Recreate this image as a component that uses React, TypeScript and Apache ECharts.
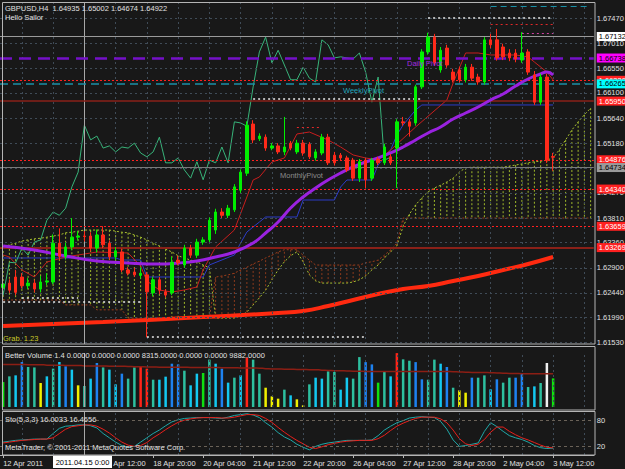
import React, { useEffect, useRef } from "react";
import * as echarts from "echarts";

// ---------- texts ----------
const symbolHeader = "GBPUSD,H4  1.64935 1.65002 1.64674 1.64922";
const indicatorName = "Hello Sailor";
const volumeHeader = "Better Volume 1.4 0.0000 0.0000 0.0000 8315.0000 0.0000 0.0000 9882.0000";
const stochHeader = "Sto(5,3,3) 16.0033 16.4656";
const copyright = "MetaTrader, \u00a9 2001-2011 MetaQuotes Software Corp.";
const crosshairTime = "2011.04.15 0:00";
const grabText = "Grab. 1.23";
const pivotNames = ["Daily Pivot", "WeeklyPivot", "MonthlyPivot"];

// ---------- axes ----------
const slotCount = 95;
const timeLabelStep = 8;
const timeLabels = ["12 Apr 2011", "14 Apr 04:00", "15 Apr 12:00", "18 Apr 20:00", "20 Apr 04:00", "21 Apr 12:00", "22 Apr 20:00", "26 Apr 04:00", "27 Apr 12:00", "28 Apr 20:00", "2 May 04:00", "3 May 12:00"];
const priceTicks = [1.6747, 1.6701, 1.6655, 1.661, 1.6564, 1.6518, 1.6472, 1.6427, 1.6381, 1.6336, 1.629, 1.6244, 1.6199, 1.6153];
const priceMin = 1.61505;
const priceMax = 1.67763;
const gridColumns = [3, 8, 18, 23, 28, 33, 38, 43, 48, 53, 58, 63, 68, 73, 78, 83, 88, 93];
const crosshairIndex = 13;
const volumeMax = 17741.85;
const volumeScaleLabels = [17741.85, 866.85];
const stochLevels = [100, 80, 20, 0];

// ---------- price data: [open, close, low, high] ----------
const candles = [
  [1.6254, 1.626, 1.6247, 1.6267], [1.6262, 1.6249, 1.6244, 1.6269], [1.6273, 1.6245, 1.624, 1.6286], [1.6273, 1.6257, 1.6252, 1.628],
  [1.6257, 1.6262, 1.6251, 1.6271], [1.6262, 1.6251, 1.6245, 1.6268], [1.6251, 1.6264, 1.6245, 1.6275], [1.6264, 1.6266, 1.6258, 1.628],
  [1.6264, 1.6335, 1.626, 1.6351], [1.6335, 1.6311, 1.6305, 1.6362], [1.6311, 1.6328, 1.6305, 1.6336], [1.6328, 1.6346, 1.6322, 1.6381],
  [1.6346, 1.6348, 1.634, 1.6357], [1.6348, 1.6347, 1.6338, 1.6357], [1.6348, 1.6326, 1.632, 1.6355], [1.6326, 1.635, 1.6318, 1.636],
  [1.635, 1.6332, 1.6326, 1.6366], [1.6335, 1.631, 1.6305, 1.634], [1.631, 1.6321, 1.6304, 1.6328], [1.6319, 1.6286, 1.6282, 1.6325],
  [1.6286, 1.628, 1.6276, 1.6291], [1.6282, 1.6277, 1.6273, 1.629], [1.6276, 1.628, 1.627, 1.6291], [1.6277, 1.6246, 1.6163, 1.6282],
  [1.6244, 1.6268, 1.6238, 1.6273], [1.6268, 1.6249, 1.6242, 1.6273], [1.6246, 1.624, 1.6236, 1.6251], [1.6244, 1.63, 1.624, 1.631],
  [1.6304, 1.6299, 1.6295, 1.6312], [1.6295, 1.6326, 1.629, 1.6332], [1.6326, 1.6313, 1.6308, 1.6332], [1.6313, 1.6337, 1.6308, 1.6343],
  [1.6337, 1.6341, 1.6332, 1.6346], [1.6341, 1.6377, 1.6337, 1.6382], [1.6359, 1.6392, 1.6352, 1.6398], [1.6392, 1.6386, 1.6381, 1.6399],
  [1.6386, 1.6399, 1.6381, 1.6405], [1.6396, 1.6438, 1.6392, 1.6443], [1.6432, 1.6465, 1.6427, 1.647], [1.6463, 1.6551, 1.6458, 1.6558],
  [1.6553, 1.6524, 1.6518, 1.656], [1.6526, 1.6531, 1.6522, 1.6536], [1.6529, 1.6509, 1.6504, 1.6534], [1.6509, 1.6513, 1.6505, 1.6518],
  [1.6513, 1.6502, 1.6498, 1.6518], [1.6502, 1.6511, 1.6496, 1.6566], [1.6518, 1.6509, 1.6505, 1.6522], [1.6502, 1.6518, 1.6498, 1.6524],
  [1.6518, 1.65, 1.6495, 1.6524], [1.6516, 1.6493, 1.6489, 1.652], [1.6491, 1.6502, 1.6486, 1.6507], [1.65, 1.6529, 1.6496, 1.6535],
  [1.6529, 1.6482, 1.6478, 1.6535], [1.6496, 1.6482, 1.6477, 1.6502], [1.6496, 1.6491, 1.6487, 1.65], [1.6491, 1.6469, 1.6465, 1.6495],
  [1.6487, 1.6454, 1.6449, 1.6491], [1.6454, 1.6484, 1.6447, 1.6489], [1.6487, 1.6451, 1.6436, 1.6491], [1.6454, 1.6487, 1.6449, 1.6491],
  [1.6489, 1.6482, 1.6478, 1.6493], [1.6482, 1.6511, 1.6478, 1.6517], [1.6493, 1.6482, 1.6478, 1.6498], [1.6509, 1.6557, 1.6436, 1.6562],
  [1.6557, 1.6555, 1.655, 1.6566], [1.6557, 1.6549, 1.653, 1.6562], [1.6555, 1.6621, 1.655, 1.6625], [1.6621, 1.6685, 1.6617, 1.669],
  [1.6685, 1.6712, 1.668, 1.672], [1.6712, 1.6665, 1.666, 1.6718], [1.6652, 1.6688, 1.6647, 1.6694], [1.6692, 1.6661, 1.6656, 1.6698],
  [1.6648, 1.6634, 1.6629, 1.6654], [1.6652, 1.6634, 1.6629, 1.6658], [1.6634, 1.6657, 1.6629, 1.6663], [1.6657, 1.6637, 1.6632, 1.6663],
  [1.6639, 1.663, 1.6625, 1.6645], [1.663, 1.6707, 1.6625, 1.6712], [1.6707, 1.6698, 1.6692, 1.6718], [1.6707, 1.6674, 1.6669, 1.6727],
  [1.6694, 1.6676, 1.667, 1.67], [1.6683, 1.6674, 1.6668, 1.669], [1.6683, 1.6672, 1.6666, 1.669], [1.667, 1.6683, 1.6665, 1.6721],
  [1.6685, 1.6648, 1.6643, 1.669], [1.6643, 1.6593, 1.6588, 1.665], [1.6593, 1.6639, 1.6588, 1.6645], [1.6639, 1.6487, 1.6482, 1.6645],
  [1.64935, 1.64922, 1.64674, 1.65002],
];

// moving averages read as [bar index, price]
const maSlow: [number, number][] = [[0, 1.61834], [16, 1.61907], [32, 1.61999], [44, 1.62072], [48, 1.62109], [52, 1.622], [56, 1.6231], [60, 1.6242], [64, 1.62511], [68, 1.62566], [72, 1.62658], [76, 1.62749], [80, 1.62859], [84, 1.62969], [88, 1.63097]];
const maMid: [number, number][] = [[0, 1.63298], [5, 1.63225], [10, 1.63115], [15, 1.63024], [20, 1.62987], [25, 1.62969], [28, 1.62987], [31, 1.63024], [34, 1.63097], [37, 1.63188], [40, 1.63353], [42, 1.63536], [44, 1.63737], [46, 1.63994], [48, 1.64195], [50, 1.6436], [52, 1.64506], [54, 1.64634], [56, 1.64744], [58, 1.64835], [60, 1.64909], [62, 1.65], [64, 1.6511], [66, 1.65238], [68, 1.65366], [70, 1.65476], [72, 1.65622], [74, 1.65732], [76, 1.65842], [78, 1.6597], [80, 1.6608], [82, 1.66226], [84, 1.66354], [86, 1.66446], [87, 1.66482], [88, 1.66428]];
const tenkan: [number, number][] = [[0, 1.63134], [1, 1.63097], [3, 1.62859], [5, 1.62731], [7, 1.63005], [10, 1.63097], [12, 1.63134], [15, 1.63188], [20, 1.6317], [22, 1.62932], [23, 1.62658], [25, 1.62493], [27, 1.62456], [29, 1.62493], [31, 1.62548], [32, 1.62859], [34, 1.6328], [37, 1.63591], [39, 1.64195], [40, 1.64506], [41, 1.64561], [43, 1.64835], [45, 1.64909], [46, 1.65128], [47, 1.65348], [49, 1.65384], [52, 1.65238], [54, 1.6511], [56, 1.64964], [58, 1.64909], [60, 1.64872], [62, 1.65055], [66, 1.65476], [71, 1.6597], [72, 1.66281], [74, 1.6683], [76, 1.6683], [78, 1.66794], [82, 1.66794], [84, 1.66757], [85, 1.66665], [87, 1.66482], [88, 1.66336]];
const kijun: [number, number][] = [[0, 1.63079], [18, 1.63079], [19, 1.63042], [22, 1.63042], [23, 1.62731], [32, 1.62731], [33, 1.62951], [37, 1.63134], [38, 1.63353], [39, 1.63554], [41, 1.63737], [42, 1.63829], [47, 1.63829], [48, 1.6414], [53, 1.6414], [54, 1.64378], [55, 1.64506], [59, 1.64506], [60, 1.64781], [62, 1.65055], [63, 1.6533], [64, 1.65513], [66, 1.65787], [67, 1.65879], [88, 1.65879]];
const chikouShift = 26;

// cloud spans (one per slot, 95)
const spanA = [
  1.6328, 1.6332, 1.6335, 1.6339, 1.6341, 1.6343, 1.6344, 1.6346, 1.6348, 1.635, 1.6354, 1.6355, 1.6357, 1.6359, 1.6359, 1.6359, 1.6359, 1.6359, 1.6357, 1.6355,
  1.6354, 1.635, 1.6346, 1.6341, 1.6335, 1.633, 1.6324, 1.6319, 1.6312, 1.6308, 1.6304, 1.6301, 1.6295, 1.629,
  1.6198, 1.6198, 1.6198, 1.6198, 1.6202, 1.6209, 1.6222, 1.6235, 1.6249, 1.6268, 1.6286, 1.6301, 1.6312, 1.6319,
  1.6301, 1.6277, 1.6266, 1.6262, 1.6262, 1.6262, 1.6262, 1.6262, 1.6264, 1.6268,
  1.6275, 1.6286, 1.6295, 1.6308, 1.6319, 1.633,
  1.6366, 1.6388, 1.6405, 1.6418, 1.6429, 1.6436, 1.6441, 1.6447, 1.6454, 1.6465, 1.6473, 1.6474, 1.6474, 1.6474, 1.6474, 1.6474,
  1.6474, 1.6476, 1.6478, 1.648, 1.6482, 1.6484, 1.6485, 1.6487, 1.6491, 1.6506, 1.6524, 1.6542, 1.6557, 1.657, 1.6582,
];
const spanB = [
  1.6231, 1.6231, 1.6231, 1.6231, 1.6231, 1.6231, 1.6231, 1.6231, 1.6231, 1.6231, 1.6222, 1.6222, 1.6222, 1.6222, 1.6222, 1.6213, 1.6213, 1.6213, 1.6213, 1.6213,
  1.6198, 1.6198, 1.6198, 1.6198, 1.6198, 1.6198, 1.6198, 1.6198, 1.6198, 1.6198, 1.6198, 1.6198, 1.6198, 1.6198,
  1.6273, 1.6275, 1.6277, 1.628, 1.6286, 1.6291, 1.6297, 1.6302, 1.6308, 1.6313, 1.6319, 1.6323, 1.6323, 1.6323,
  1.6313, 1.6304, 1.6295, 1.6295, 1.6295, 1.6295, 1.6295, 1.6295, 1.6295, 1.6295,
  1.6299, 1.6301, 1.6304, 1.6313, 1.6323, 1.6335,
  1.6381, 1.6381, 1.6381, 1.6381, 1.6381, 1.6381, 1.6381, 1.6381, 1.6381, 1.6381, 1.6381, 1.6381, 1.6381, 1.6381, 1.6381, 1.6381,
  1.6381, 1.6381, 1.6381, 1.6381, 1.6381, 1.6381, 1.6381, 1.6381, 1.6381, 1.6381, 1.6381, 1.6381, 1.6381, 1.6381, 1.6381,
];

// horizontal levels
const levelPrices = [1.67132, 1.66738, 1.6633, 1.66265, 1.6595, 1.64876, 1.64734, 1.6434, 1.63659, 1.63269];
const dottedSegments = [
  { price: 1.6747, from: 68, to: 88 },
  { price: 1.6599, from: 40, to: 67 },
  { price: 1.6236, from: 3, to: 12 },
  { price: 1.6227, from: 0, to: 22 },
  { price: 1.6163, from: 23, to: 58 },
];
const dailySegments = [
  { price: 1.6736, from: 78, to: 88 },
  { price: 1.672, from: 83, to: 88 },
  { price: 1.6769, from: 78, to: 94 },
  { price: 1.6547, from: 47, to: 51 },
];

// ---------- volume ----------
const volumes = [
  8200, 10070, 10400, 14780, 13140, 13000, 7880, 10070, 12600, 14780, 13370, 12270, 7120, 6900, 9320, 14450, 13000, 12270, 7440, 10950,
  9320, 13000, 13140, 12600, 8970, 8970, 9970, 14230, 14010, 11930, 7120, 10950, 11180, 15560, 14230, 12600, 8000, 9640, 10400, 16220,
  15560, 10950, 6340, 3500, 2740, 5700, 3830, 2520, 550, 7440, 9640, 9320, 11700, 11500, 5700, 9640, 9320, 16400, 14750, 14000,
  8000, 11500, 10070, 17700, 15660, 15200, 14750, 9100, 8970, 15560, 14230, 13140, 6340, 5470, 4700, 9640, 9640, 10400, 5800, 9100,
  8000, 9640, 9640, 10950, 6560, 6780, 7880, 14450, 9400,
];
const volumeKinds = ("gtcbttyctc" + "bcytcbtccb" + "ttrrtccbbt" + "ccgtcbctcr" + "ttyyytcyyt" + "ccttccttbb" + "gtcrttbbtt" + "cbtyybttcb" + "ttbbtctwg").split("");
const volumeMA = [
  14000, 14000, 13950, 13950, 13900, 13900, 13850, 13750, 13700, 13700, 13650, 13650, 13600, 13500, 13450, 13450, 13450, 13400, 13400, 13350,
  13300, 13250, 13200, 13150, 13150, 13100, 13100, 13100, 13050, 13050, 13000, 13000, 13000, 12950, 12950, 12900, 12900, 12900, 12850, 12800,
  12800, 12700, 12600, 12500, 12450, 12400, 12400, 12350, 12300, 12250, 12200, 12100, 12000, 11950, 11900, 11800, 11750, 11750, 11700, 11700,
  11700, 11700, 11700, 11700, 11700, 11700, 11700, 11700, 11700, 11700, 11700, 11650, 11600, 11500, 11400, 11350, 11300, 11300, 11250, 11200,
  11100, 11000, 11000, 10950, 10950, 10950, 10950, 10950, 10950,
];

// ---------- stochastic ----------
const stochMain = [
  30, 32, 34, 35, 36, 37, 37, 37, 50, 62, 67, 68, 70, 70, 68, 63, 50, 40, 30, 22,
  18, 20, 30, 40, 50, 58, 68, 77, 82, 85, 86, 87, 87, 87, 86, 85, 88, 92, 94, 96,
  93, 87, 75, 65, 52, 42, 35, 25, 18, 12, 20, 25, 28, 30, 32, 34, 34, 34, 34, 35,
  45, 58, 67, 75, 80, 86, 88, 89, 88, 87, 78, 60, 35, 20, 22, 25, 28, 55, 75, 66,
  55, 45, 40, 36, 30, 22, 17, 15, 16.0033,
];
const stochSignal = [
  28, 30, 32, 34, 35, 36, 37, 37, 40, 50, 60, 66, 68, 70, 70, 67, 60, 51, 40, 30,
  23, 20, 22, 29, 40, 49, 59, 68, 76, 81, 84, 86, 87, 87, 87, 86, 86, 88, 91, 94,
  94, 92, 85, 76, 64, 53, 43, 34, 26, 18, 15, 19, 24, 27, 30, 32, 33, 34, 34, 34,
  38, 46, 57, 67, 74, 80, 85, 88, 88, 88, 84, 75, 58, 38, 26, 22, 25, 36, 53, 65,
  65, 55, 47, 40, 35, 29, 23, 18, 16.4656,
];

// ---------- styles ----------
const FONT = "'Liberation Sans', Arial, sans-serif";
const FS = 7.5;
const BG = "#181818";
const TXT = "#e0e0e0";
const GRIDC = "#3f4b57";
const FRAME = "#b4b4b4";
const volumeColorMap: Record<string, string> = { c: "#14c8f0", b: "#1e82f0", t: "#2dbf9f", y: "#f0f000", r: "#ff2418", g: "#10e010", w: "#f0f0f0" };
const levelStyles = [
  { color: "#9a9a9a", type: "solid", width: 1, bg: "#ffffff", fg: "#000000" },
  { color: "#7410c8", type: [12, 7], width: 2.5, bg: "#ff00ff", fg: "#000000" },
  { color: "#ff2020", type: [2, 2], width: 1, bg: "#ff2020", fg: "#ffffff" },
  { color: "#1a8fa6", type: [8, 5], width: 1.5, bg: "#00ffff", fg: "#000000" },
  { color: "#8a2018", type: "solid", width: 1.5, bg: "#ff2020", fg: "#ffffff" },
  { color: "#ff2020", type: [2, 2], width: 1, bg: "#ff2020", fg: "#ffffff" },
  { color: "#7a7a7a", type: "solid", width: 1, bg: "#9a9a9a", fg: "#000000" },
  { color: "#ff2020", type: [2, 2], width: 1, bg: "#ff2020", fg: "#ffffff" },
  { color: "#ff2020", type: [2, 2], width: 1, bg: "#ff2020", fg: "#ffffff" },
  { color: "#8a2018", type: "solid", width: 2, bg: "#ff2020", fg: "#ffffff" },
];
const dailyStyles = [
  { color: "#e02828", type: [2, 3] },
  { color: "#d040a0", type: [2, 3] },
  { color: "#1a8fa6", type: [6, 4] },
  { color: "#e02828", type: [2, 3] },
];

const fmt5 = (v: number) => v.toFixed(5);

function buildOption() {
  const cats = Array.from({ length: slotCount }, (_, i) => String(i));
  const closes = candles.map((c) => c[1]);
  const chikou = closes.slice(chikouShift).map((c, i) => [i, c]);

  const grids = [
    { left: 0, top: 2, width: 593.75, height: 342 },
    { left: 0, top: 353, width: 593.75, height: 54 },
    { left: 0, top: 412, width: 593.75, height: 43 },
  ].map((g) => ({ ...g, containLabel: false, outerBoundsMode: "none", show: false }));

  const baseX = (gridIndex: number) => ({
    type: "category", gridIndex, data: cats, boundaryGap: true,
    axisLine: { show: false }, axisTick: { show: false }, axisLabel: { show: false }, splitLine: { show: false },
  });
  const labelIdx = (index: number) => index % timeLabelStep === 0 && index / timeLabelStep < timeLabels.length;
  const xAxes = [
    baseX(0), baseX(1),
    {
      ...baseX(2),
      axisLine: { show: true, lineStyle: { color: FRAME, width: 1 } },
      axisTick: { show: true, interval: labelIdx, alignWithLabel: true, length: 3, lineStyle: { color: FRAME } },
      axisLabel: {
        show: true, interval: labelIdx, align: "left", margin: 4, color: TXT, fontSize: FS, fontFamily: FONT,
        formatter: (_v: string, index: number) => timeLabels[index / timeLabelStep] ?? "",
      },
    },
  ];
  const baseY = (gridIndex: number, min: number, max: number) => ({
    type: "value", gridIndex, min, max, position: "right", show: false, scale: true, splitLine: { show: false },
  });
  const yAxes = [baseY(0, priceMin, priceMax), baseY(1, 0, volumeMax), baseY(2, 0, 100)];

  const vGrid = () => [
    ...gridColumns.map((i) => ({ xAxis: i, lineStyle: { color: GRIDC, type: [2, 3], width: 1 }, label: { show: false } })),
    { xAxis: crosshairIndex, lineStyle: { color: "#a8a8a8", type: "solid", width: 1 }, label: { show: false } },
  ];
  const ml = (data: any[]) => ({ symbol: ["none", "none"], silent: true, animation: false, precision: 5, data });

  const tickLabel = { show: true, position: "end", distance: 3, color: TXT, fontSize: FS, fontFamily: FONT };

  const series: any[] = [
    {
      type: "line", xAxisIndex: 0, yAxisIndex: 0, data: [], z: 1, silent: true,
      markLine: ml([
        ...priceTicks.map((p) => ({ yAxis: p, lineStyle: { color: GRIDC, type: [2, 3], width: 1 }, label: { ...tickLabel, formatter: fmt5(p) } })),
        ...vGrid(),
      ]),
    },
    {
      type: "custom", xAxisIndex: 0, yAxisIndex: 0, z: 2, silent: true,
      data: spanA.map((a, i) => [i, a, spanB[i]]),
      encode: { x: 0, y: [1, 2] },
      renderItem: (_p: any, api: any) => {
        const i = api.value(0), a = api.value(1), b = api.value(2);
        const p1 = api.coord([i, a]);
        const p2 = api.coord([i, b]);
        return {
          type: "line",
          shape: { x1: p1[0], y1: p1[1], x2: p2[0], y2: p2[1] },
          style: { stroke: a >= b ? "#9fb82a" : "#8a3a1c", lineWidth: 1, lineDash: [2, 2] },
        };
      },
    },
    { type: "line", xAxisIndex: 0, yAxisIndex: 0, z: 2, data: spanA, symbol: "none", lineStyle: { color: "#a8c030", width: 1, type: [2, 2] } },
    { type: "line", xAxisIndex: 0, yAxisIndex: 0, z: 2, data: spanB, symbol: "none", lineStyle: { color: "#9a3c1c", width: 1, type: [2, 2] } },
    {
      type: "line", xAxisIndex: 0, yAxisIndex: 0, data: [], z: 3, silent: true,
      markLine: ml([
        ...levelPrices.map((p, k) => {
          const s = levelStyles[k];
          return {
            yAxis: p, lineStyle: { color: s.color, type: s.type, width: s.width },
            label: { ...tickLabel, formatter: fmt5(p), color: s.fg, backgroundColor: s.bg, padding: [1, 2, 0, 2] },
          };
        }),
        ...dottedSegments.map((s) => [
          { coord: [s.from, s.price], lineStyle: { color: "#e8e8e8", type: [2, 3], width: 1.5 }, label: { show: false } },
          { coord: [s.to, s.price] },
        ]),
        ...dailySegments.map((s, k) => [
          { coord: [s.from, s.price], lineStyle: { color: dailyStyles[k].color, type: dailyStyles[k].type, width: 1 }, label: { show: false } },
          { coord: [s.to, s.price] },
        ]),
      ]),
    },
    { type: "line", xAxisIndex: 0, yAxisIndex: 0, z: 4, data: maSlow, symbol: "none", smooth: true, lineStyle: { color: "#ff2a10", width: 4 } },
    { type: "line", xAxisIndex: 0, yAxisIndex: 0, z: 4, data: kijun, symbol: "none", lineStyle: { color: "#2c3cc8", width: 1 } },
    { type: "line", xAxisIndex: 0, yAxisIndex: 0, z: 4, data: tenkan, symbol: "none", lineStyle: { color: "#c81e1e", width: 1 } },
    { type: "line", xAxisIndex: 0, yAxisIndex: 0, z: 4, data: chikou, symbol: "none", lineStyle: { color: "#38b47a", width: 1 } },
    { type: "line", xAxisIndex: 0, yAxisIndex: 0, z: 5, data: maMid, symbol: "none", smooth: true, lineStyle: { color: "#9a22e0", width: 3 } },
    {
      type: "candlestick", xAxisIndex: 0, yAxisIndex: 0, z: 6, data: candles, barWidth: 3,
      itemStyle: { color: "#00f000", color0: "#ff2a1a", borderColor: "#00f000", borderColor0: "#ff2a1a", borderWidth: 1 },
    },
    {
      type: "line", xAxisIndex: 1, yAxisIndex: 1, data: [], z: 1, silent: true,
      markLine: ml([
        ...vGrid(),
        ...volumeScaleLabels.map((v) => ({ yAxis: v, lineStyle: { opacity: 0 }, label: { ...tickLabel, formatter: v.toFixed(2) } })),
      ]),
    },
    {
      type: "bar", xAxisIndex: 1, yAxisIndex: 1, z: 3, barWidth: 2.5,
      data: volumes.map((v, i) => ({ value: v, itemStyle: { color: volumeColorMap[volumeKinds[i]] || "#14c8f0" } })),
    },
    { type: "line", xAxisIndex: 1, yAxisIndex: 1, z: 4, data: volumeMA, symbol: "none", step: "middle", lineStyle: { color: "#8c1e14", width: 1.5 } },
    {
      type: "line", xAxisIndex: 2, yAxisIndex: 2, data: [], z: 1, silent: true,
      markLine: ml([
        ...vGrid(),
        ...stochLevels.map((v) => ({
          yAxis: v,
          lineStyle: v === 80 || v === 20 ? { color: "#6a6258", type: [3, 3], width: 1 } : { opacity: 0 },
          label: { ...tickLabel, formatter: String(v), offset: [0, v === 100 ? 4 : v === 0 ? -6 : 0] },
        })),
      ]),
    },
    { type: "line", xAxisIndex: 2, yAxisIndex: 2, z: 3, data: stochMain, symbol: "none", lineStyle: { color: "#20a8a8", width: 1 } },
    { type: "line", xAxisIndex: 2, yAxisIndex: 2, z: 4, data: stochSignal, symbol: "none", lineStyle: { color: "#e8201c", width: 1 } },
  ];

  const t = (text: string, x: number, y: number, fill = TXT, extra: any = {}, z = 100) => ({
    type: "text", x, y, z, silent: true,
    style: { text, fill, font: `${FS}px ${FONT}`, verticalAlign: "middle", align: "left", ...extra },
  });
  const frame = (x: number, y: number, w: number, h: number) => ({
    type: "rect", z: 90, silent: true, shape: { x, y, width: w, height: h }, style: { fill: "none", stroke: FRAME, lineWidth: 1 },
  });

  const graphic = [
    frame(2.5, 2.5, 592.5, 341.5),
    frame(2.5, 346.5, 592.5, 63.5),
    frame(2.5, 411.5, 592.5, 43.5),
    t(symbolHeader, 5, 8),
    t(indicatorName, 5, 17),
    t(volumeHeader, 5, 355),
    t(stochHeader, 5, 419),
    t(copyright, 5, 447),
    t(pivotNames[0], 407, 63, "#a22ce0"),
    t(pivotNames[1], 343, 90, "#22a6bd"),
    t(pivotNames[2], 280, 175, "#8c8c8c"),
    t(grabText, 3, 338, "#c8c828"),
    { type: "rect", z: 110, silent: true, shape: { x: 53, y: 456, width: 59, height: 12 }, style: { fill: "#ffffff" } },
    t(crosshairTime, 82.5, 462, "#000000", { align: "center" }, 120),
  ];

  return {
    animation: false,
    backgroundColor: BG,
    textStyle: { fontFamily: FONT },
    grid: grids,
    xAxis: xAxes,
    yAxis: yAxes,
    series,
    graphic,
  };
}

export default function App() {
  const ref = useRef<HTMLDivElement>(null);
  useEffect(() => {
    if (!ref.current) return;
    const chart = echarts.init(ref.current, undefined, { renderer: "svg" });
    chart.setOption(buildOption() as any);
    return () => chart.dispose();
  }, []);
  return <div ref={ref} style={{ position: "absolute", left: 0, top: 0, width: 625, height: 469, background: BG }} />;
}
